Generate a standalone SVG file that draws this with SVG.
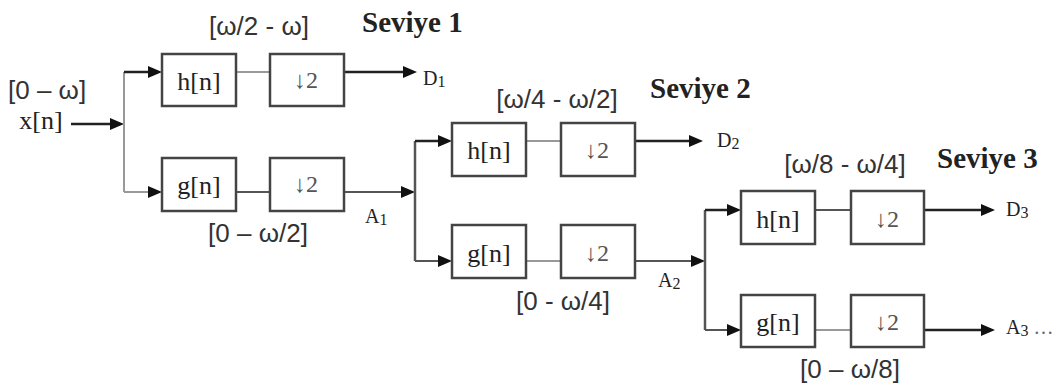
<svg xmlns="http://www.w3.org/2000/svg" width="1064" height="390" viewBox="0 0 1064 390">
<defs>
<marker id="ah" markerUnits="userSpaceOnUse" markerWidth="14" markerHeight="12" viewBox="0 0 14 12" refX="10" refY="6" orient="auto">
<path d="M0,0 L14,6 L0,12 z" fill="#111"/>
</marker>
<style>
.box{fill:#fff;stroke:#444;stroke-width:2.5}
.dk{fill:none;stroke:#222;stroke-width:2.5}
.md{fill:none;stroke:#555;stroke-width:2}
.lt{fill:none;stroke:#999;stroke-width:2}
.arr{marker-end:url(#ah)}
.lab{font-family:"Liberation Serif","DejaVu Serif",serif;font-size:26px;fill:#222;text-anchor:middle}
.dn{font-family:"Liberation Serif","DejaVu Serif",serif;font-size:24px;fill:#555;text-anchor:middle}
.band{font-family:"Liberation Sans","DejaVu Sans",sans-serif;font-size:26px;fill:#333}
.mid{text-anchor:middle}
.lvl{font-family:"Liberation Serif",serif;font-size:29px;font-weight:bold;fill:#222}
.out{font-family:"Liberation Serif",serif;font-size:20px;fill:#222}
.sub{font-size:16px}
</style>
</defs>
<rect width="1064" height="390" fill="#fff"/>

<g id="connectors">
<path class="dk arr" d="M71,124 H120"/>
<path class="lt" d="M124,72 V192"/>
<path class="dk arr" d="M124,72 H158"/>
<path class="lt arr" d="M124,192 H158"/>
<path class="lt" d="M236,72 H270"/>
<path class="md" d="M236,192 H270"/>
<path class="dk arr" d="M344,72 H413"/>
<path class="md arr" d="M344,192 H411"/>

<path class="md" d="M415,141 V261" style="stroke-width:2.5"/>
<path class="dk arr" d="M415,141 H448"/>
<path class="md arr" d="M415,261 H448"/>
<path class="lt" d="M526,141 H561"/>
<path class="lt" d="M526,261 H561"/>
<path class="dk arr" d="M635,141 H699"/>
<path class="md arr" d="M635,261 H701"/>

<path class="md" d="M705,210 V330" style="stroke-width:2.5"/>
<path class="dk arr" d="M705,210 H737"/>
<path class="md arr" d="M705,330 H737"/>
<path class="md" d="M815,210 H851"/>
<path class="lt" d="M815,330 H851"/>
<path class="dk arr" d="M924,210 H991"/>
<path class="dk arr" d="M924,330 H991"/>
</g>

<g id="input">
<text class="band" x="8" y="99">[0 – ω]</text>
<text class="lab" x="41" y="129">x[n]</text>
</g>

<g id="level1">
<text class="lvl" x="362" y="32">Seviye 1</text>
<text class="band mid" x="259" y="35">[ω/2 - ω]</text>
<text class="band mid" x="258" y="242">[0 – ω/2]</text>
</g>
<g id="h1"><rect class="box" x="162" y="54" width="74" height="52"/><text class="lab" x="199" y="90">h[n]</text></g>
<g id="d1"><rect class="box" x="270" y="54" width="74" height="52"/><text class="dn" x="306" y="88">↓2</text></g>
<g id="g1"><rect class="box" x="162" y="158" width="74" height="53"/><text class="lab" x="199" y="194">g[n]</text></g>
<g id="d1b"><rect class="box" x="270" y="158" width="74" height="53"/><text class="dn" x="306" y="192">↓2</text></g>
<g id="D1"><text class="out" x="423" y="85">D<tspan class="sub" dy="2">1</tspan></text></g>
<g id="A1"><text class="out" x="365" y="223">A<tspan class="sub" dy="2">1</tspan></text></g>

<g id="level2">
<text class="lvl" x="650" y="98">Seviye 2</text>
<text class="band mid" x="557" y="108">[ω/4 - ω/2]</text>
<text class="band mid" x="563" y="310">[0 - ω/4]</text>
</g>
<g id="h2"><rect class="box" x="452" y="123" width="74" height="53"/><text class="lab" x="489" y="159">h[n]</text></g>
<g id="d2"><rect class="box" x="561" y="123" width="74" height="53"/><text class="dn" x="597" y="158">↓2</text></g>
<g id="g2"><rect class="box" x="452" y="225" width="74" height="53"/><text class="lab" x="489" y="262">g[n]</text></g>
<g id="d2b"><rect class="box" x="561" y="225" width="74" height="53"/><text class="dn" x="597" y="261">↓2</text></g>
<g id="D2"><text class="out" x="717" y="147">D<tspan class="sub" dy="2">2</tspan></text></g>
<g id="A2"><text class="out" x="658" y="287">A<tspan class="sub" dy="2">2</tspan></text></g>

<g id="level3">
<text class="lvl" x="937" y="168">Seviye 3</text>
<text class="band mid" x="845" y="173">[ω/8 - ω/4]</text>
<text class="band mid" x="850" y="378">[0 – ω/8]</text>
</g>
<g id="h3"><rect class="box" x="741" y="191" width="74" height="53"/><text class="lab" x="778" y="228">h[n]</text></g>
<g id="d3"><rect class="box" x="851" y="191" width="73" height="53"/><text class="dn" x="887" y="227">↓2</text></g>
<g id="g3"><rect class="box" x="741" y="295" width="74" height="52"/><text class="lab" x="778" y="331">g[n]</text></g>
<g id="d3b"><rect class="box" x="851" y="295" width="73" height="52"/><text class="dn" x="887" y="330">↓2</text></g>
<g id="D3"><text class="out" x="1006" y="216">D<tspan class="sub" dy="2">3</tspan></text></g>
<g id="A3"><text class="out" x="1006" y="334">A<tspan class="sub" dy="2">3</tspan><tspan dy="-2" fill="#666"> …</tspan></text></g>
</svg>
